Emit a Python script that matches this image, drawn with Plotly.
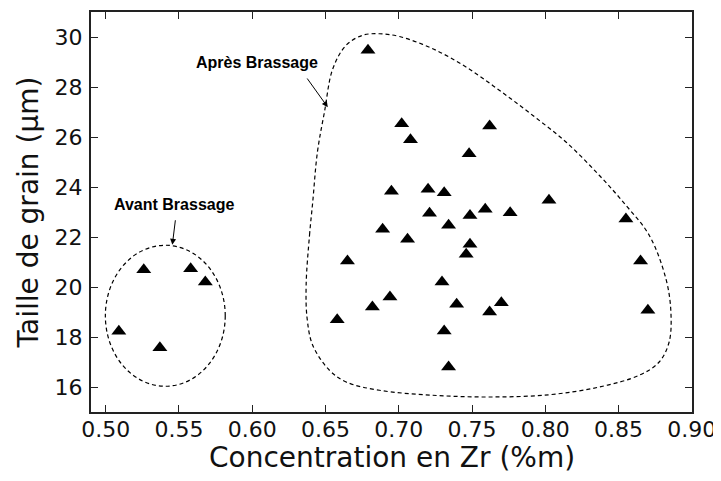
import plotly.graph_objects as go

# Data: grain size vs Zr concentration
avant_x = [0.526, 0.558, 0.568, 0.509, 0.537]
avant_y = [20.69, 20.73, 20.20, 18.23, 17.57]

apres_x = [0.679, 0.702, 0.708, 0.762, 0.748, 0.695, 0.720, 0.731, 0.8025, 0.721,
           0.7486, 0.759, 0.776, 0.855, 0.734, 0.706, 0.7486, 0.746, 0.865, 0.7295,
           0.7395, 0.770, 0.762, 0.870, 0.731, 0.734, 0.665, 0.689, 0.682, 0.694, 0.658]
apres_y = [29.47, 26.53, 25.89, 26.44, 25.33, 23.83, 23.91, 23.77, 23.47, 22.95,
           22.86, 23.11, 22.97, 22.72, 22.47, 21.91, 21.71, 21.31, 21.04, 20.20,
           19.31, 19.37, 19.00, 19.07, 18.24, 16.80, 21.04, 22.31, 19.20, 19.60, 18.69]

# Hand-drawn group outlines (annotation guides, data coordinates)
blob_x = [0.6368, 0.6391, 0.6413, 0.6445, 0.6493, 0.6550, 0.6641, 0.6754, 0.6868, 0.7005,
          0.7232, 0.7459, 0.7686, 0.7913, 0.8141, 0.8368, 0.8550, 0.8709, 0.8823, 0.8857,
          0.8845, 0.8777, 0.8641, 0.8368, 0.8027, 0.7618, 0.7232, 0.6868, 0.6641, 0.6527,
          0.6413, 0.6375, 0.6368]
blob_y = [20.07, 22.07, 23.40, 25.40, 27.00, 28.73, 29.67, 30.07, 30.13, 30.02,
          29.53, 28.80, 27.87, 26.87, 25.80, 24.47, 23.27, 22.07, 20.33, 19.00,
          17.80, 17.00, 16.47, 16.00, 15.69, 15.60, 15.67, 15.87, 16.20, 16.67,
          17.67, 18.73, 20.07]
ellipse_box = [0.4998, 0.5816, 16.03, 21.67]

x_ticks = [0.50, 0.55, 0.60, 0.65, 0.70, 0.75, 0.80, 0.85, 0.90]
y_ticks = [16, 18, 20, 22, 24, 26, 28, 30]
x_title = "Concentration en Zr (%m)"
y_title = "Taille de grain (µm)"

fig = go.Figure()

fig.add_trace(go.Scatter(
    x=blob_x, y=blob_y, mode="lines",
    line=dict(color="black", width=1.2, dash="4px,3px", shape="spline", smoothing=1.0),
    hoverinfo="skip", showlegend=False))

fig.add_trace(go.Scatter(
    x=avant_x, y=avant_y, mode="markers",
    marker=dict(symbol="triangle-up", size=13, color="black"),
    name="Avant Brassage", showlegend=False))
fig.add_trace(go.Scatter(
    x=apres_x, y=apres_y, mode="markers",
    marker=dict(symbol="triangle-up", size=13, color="black"),
    name="Après Brassage", showlegend=False))

fig.add_shape(type="circle", xref="x", yref="y",
              x0=ellipse_box[0], x1=ellipse_box[1], y0=ellipse_box[2], y1=ellipse_box[3],
              line=dict(color="black", width=1.2, dash="4px,3px"))

afont = dict(family="Liberation Sans", size=16, color="black")
fig.add_annotation(x=0.603, y=28.97, text="<b>Après Brassage</b>", showarrow=False, font=afont)
fig.add_annotation(x=0.5468, y=23.29, text="<b>Avant Brassage</b>", showarrow=False, font=afont)
fig.add_annotation(x=0.6516, y=27.19, ax=0.6368, ay=28.40, axref="x", ayref="y",
                   text="", showarrow=True, arrowhead=2, arrowsize=1.2, arrowwidth=1,
                   arrowcolor="black")
fig.add_annotation(x=0.5455, y=21.69, ax=0.5477, ay=22.73, axref="x", ayref="y",
                   text="", showarrow=True, arrowhead=2, arrowsize=1.2, arrowwidth=1,
                   arrowcolor="black")

# X axis title as a paper annotation so it can sit low, as in the reference
fig.add_annotation(x=0.5, y=-0.113, xref="paper", yref="paper", xanchor="center",
                   yanchor="middle", text=x_title, showarrow=False,
                   font=dict(family="DejaVu Sans", size=28, color="#111"))

axis_common = dict(
    showgrid=False, zeroline=False, showline=True, linecolor="#222", linewidth=2,
    mirror="ticks", ticks="inside", ticklen=7, tickwidth=1, tickcolor="#222",
    tickfont=dict(family="DejaVu Sans", size=22, color="#111"),
    ticklabeloverflow="allow",
)

fig.update_xaxes(range=[0.49, 0.9001], tickvals=x_ticks,
                 ticktext=[f"{v:.2f}" for v in x_ticks],
                 ticklabelstandoff=-3, **axis_common)
fig.update_yaxes(range=[15, 31], tickvals=y_ticks,
                 ticktext=[str(v) for v in y_ticks],
                 title=dict(text=y_title,
                            font=dict(family="DejaVu Sans", size=28, color="#111"),
                            standoff=8),
                 ticklabelstandoff=2, **axis_common)

# Page body has an 8px default margin, so the figure is offset by 8px.
fig.update_layout(
    width=713, height=465,
    margin=dict(l=83, r=29, t=2, b=61),
    plot_bgcolor="white", paper_bgcolor="white",
    showlegend=False,
)

fig.write_html("out.html")
